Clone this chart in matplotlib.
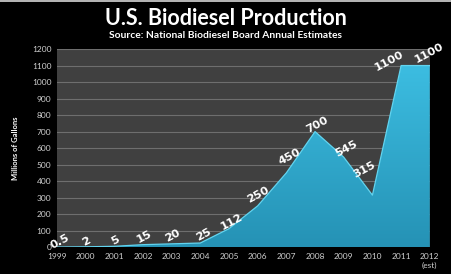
import numpy as np
import matplotlib.pyplot as plt
from matplotlib.patches import Polygon
from matplotlib.colors import LinearSegmentedColormap

years = [1999, 2000, 2001, 2002, 2003, 2004, 2005, 2006, 2007, 2008, 2009, 2010, 2011, 2012]
production = [0.5, 2, 5, 15, 20, 25, 112, 250, 450, 700, 545, 315, 1100, 1100]
value_labels = ["0.5", "2", "5", "15", "20", "25", "112", "250", "450", "700", "545", "315", "1100", "1100"]
year_labels = ["1999", "2000", "2001", "2002", "2003", "2004", "2005", "2006",
               "2007", "2008", "2009", "2010", "2011", "2012\n(est)"]
y_ticks = list(range(0, 1300, 100))

plt.rcParams["font.family"] = ["Lato", "DejaVu Sans"]

fig = plt.figure(figsize=(4.51, 2.74), dpi=100, facecolor="black")
ax = fig.add_axes([0.126, 0.098, 0.827, 0.723])
ax.set_facecolor("#404040")

# gradient filled area, clipped to the data polygon
x = np.array(years, dtype=float)
y = np.array(production, dtype=float)
verts = [(x[0], 0)] + list(zip(x, y)) + [(x[-1], 0)]
poly = Polygon(verts, closed=True, facecolor="none", edgecolor="none")
ax.add_patch(poly)
grad = np.linspace(0, 1, 256).reshape(-1, 1)
cmap = LinearSegmentedColormap.from_list("bio", ["#2592b5", "#3cbde1"])
img = ax.imshow(grad, cmap=cmap, aspect="auto", origin="lower",
                extent=[x[0], x[-1], 0, 1100], zorder=2)
img.set_clip_path(poly)
ax.plot(x, y, color="#62d4ef", lw=0.9, zorder=3)

# data labels (offsets in pixels from each point)
label_dx = [3, 1, 1, 1, 1, 3, 3, 0, 3, 2, 2, -8, -12, -1]
label_dy = [5, 5, 6, 8, 8, 8, 7, 11, 16, 7, 8, 25, 5, 13]
for xi, yi, lab, dx, dy in zip(x, y, value_labels, label_dx, label_dy):
    ax.annotate(lab, (xi, yi), xytext=(dx * 0.72, dy * 0.72), textcoords="offset points",
                rotation=28, color="white", fontsize=8.2, fontweight="bold",
                family="DejaVu Sans", ha="center", va="center", zorder=4,
                annotation_clip=False)

ax.set_xlim(1999, 2012)
ax.set_ylim(0, 1200)
ax.set_yticks(y_ticks)
ax.set_yticklabels([str(v) for v in y_ticks], color="#d0d0d0", fontsize=6)
ax.set_xticks(years)
ax.set_xticklabels(year_labels, color="#d0d0d0", fontsize=6, linespacing=1.3)
ax.tick_params(length=0, pad=4)
ax.grid(axis="y", color="#6e6e6e", lw=0.8)
ax.set_axisbelow(True)
for s in ax.spines.values():
    s.set_visible(False)

ax.set_ylabel("Millions of Gallons", color="white", fontsize=5.5, fontweight="bold", labelpad=9)

fig.text(0.5, 0.932, "U.S. Biodiesel Production", color="white", fontsize=15.5,
         fontweight="bold", ha="center", va="center")
fig.text(0.5, 0.872, "Source: National Biodiesel Board Annual Estimates", color="white",
         fontsize=7.4, fontweight="bold", ha="center", va="center")

# thin light edge at the top of the image
fig.add_artist(plt.Line2D([0, 1], [0.997, 0.997], color="#d8d8d8", lw=1.2))

fig.savefig("out.png", dpi=100, facecolor="black")
